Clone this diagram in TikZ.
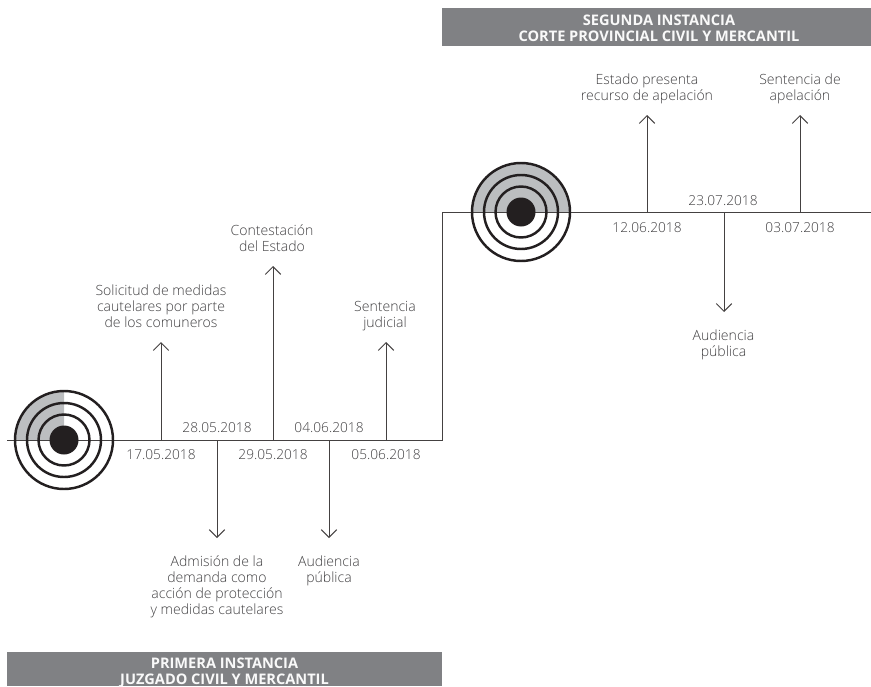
\documentclass[tikz,border=0pt]{standalone}
\usepackage{fontspec}
\setmainfont{Open Sans Light}
\newfontfamily\boldfont{Open Sans Bold}
\usepackage{xcolor}
\usetikzlibrary{arrows.meta}
\definecolor{gris}{HTML}{808184}
\definecolor{sombra}{HTML}{BCBEC0}
\definecolor{texto}{HTML}{414042}
\definecolor{negro}{HTML}{231F20}
\tikzset{
    linea/.style={draw=negro!85, line width=0.55pt},
    flecha/.style={linea, -{Straight Barb[length=4.4pt,width=9.4pt,angle'=90]}},
    fecha/.style={text=texto, font=\fontsize{7.8}{9}\selectfont, inner sep=0pt},
    hito/.style={text=texto, font=\fontsize{8}{9.1}\selectfont, align=center, inner sep=0pt},
    instancia/.style={text=white!95!gris, font=\boldfont\fontsize{8.3}{9.1}\selectfont, align=center, inner sep=0pt},
    anillo/.style={draw=negro, line width=1.4pt},
}
\begin{document}
\begin{tikzpicture}[x=0.02cm, y=-0.02cm]
            \useasboundingbox (0, 0) rectangle (871, 686);

            % barras
            \fill[gris] (442, 8) rectangle (871, 46);
            \fill[gris] (7, 652) rectangle (442, 686);
            \node[instancia] (segunda) at (659, 28) {SEGUNDA INSTANCIA\\CORTE PROVINCIAL CIVIL Y MERCANTIL};
            \node[instancia] (primera) at (224.5, 673) {PRIMERA INSTANCIA\\JUZGADO CIVIL Y MERCANTIL};

            % dianas
            \fill[sombra] (64, 440) -- (15, 440) arc[start angle=180, end angle=270, radius=49] -- cycle;
            \fill[sombra] (472, 212) arc[start angle=180, end angle=360, radius=49] -- cycle;

            % linea de tiempo
            \coordinate (inicio) at (7, 440);
            \coordinate (codo1) at (442, 440);
            \coordinate (codo2) at (442, 212);
            \coordinate (fin) at (871, 212);
            \draw[linea] (inicio) -- (codo1) -- (codo2) -- (fin);

            \node[anillo, circle, minimum size=98*0.02cm, inner sep=0pt] (d1a) at (64, 440) {};
            \node[anillo, circle, minimum size=74*0.02cm, inner sep=0pt] (d1b) at (64, 440) {};
            \node[anillo, circle, minimum size=51*0.02cm, inner sep=0pt] (d1c) at (64, 440) {};
            \node[circle, fill=negro, minimum size=29*0.02cm, inner sep=0pt] (d1d) at (64, 440) {};
            \node[anillo, circle, minimum size=98*0.02cm, inner sep=0pt] (d2a) at (521, 212) {};
            \node[anillo, circle, minimum size=74*0.02cm, inner sep=0pt] (d2b) at (521, 212) {};
            \node[anillo, circle, minimum size=51*0.02cm, inner sep=0pt] (d2c) at (521, 212) {};
            \node[circle, fill=negro, minimum size=29*0.02cm, inner sep=0pt] (d2d) at (521, 212) {};

            % primera instancia
            \coordinate (t1) at (161, 440);  \coordinate (p1) at (161, 342);
            \coordinate (t2) at (217, 440);  \coordinate (p2) at (217, 538);
            \coordinate (t3) at (273, 440);  \coordinate (p3) at (273, 266);
            \coordinate (t4) at (329, 440);  \coordinate (p4) at (329, 538);
            \coordinate (t5) at (386, 440);  \coordinate (p5) at (386, 342);
            \draw[flecha] (t1) -- (p1);
            \draw[flecha] (t2) -- (p2);
            \draw[flecha] (t3) -- (p3);
            \draw[flecha] (t4) -- (p4);
            \draw[flecha] (t5) -- (p5);

            \node[fecha] (f1) at (161, 454.5) {17.05.2018};
            \node[fecha] (f2) at (217, 428) {28.05.2018};
            \node[fecha] (f3) at (273, 454.5) {29.05.2018};
            \node[fecha] (f4) at (329, 428) {04.06.2018};
            \node[fecha] (f5) at (386, 454.5) {05.06.2018};

            \node[hito] (h1) at (161, 306) {Solicitud de medidas\\cautelares por parte\\de los comuneros};
            \node[hito] (h2) at (217, 587) {Admisión de la\\demanda como\\acción de protección\\y medidas cautelares};
            \node[hito] (h3) at (272, 238) {Contestación\\del Estado};
            \node[hito] (h4) at (329, 571) {Audiencia\\pública};
            \node[hito] (h5) at (385, 316) {Sentencia\\judicial};

            % segunda instancia
            \coordinate (t6) at (647, 212);  \coordinate (p6) at (647, 115);
            \coordinate (t7) at (724, 212);  \coordinate (p7) at (724, 312);
            \coordinate (t8) at (800, 212);  \coordinate (p8) at (800, 115);
            \draw[flecha] (t6) -- (p6);
            \draw[flecha] (t7) -- (p7);
            \draw[flecha] (t8) -- (p8);

            \node[fecha] (f6) at (647, 228) {12.06.2018};
            \node[fecha] (f7) at (723, 201) {23.07.2018};
            \node[fecha] (f8) at (800, 228) {03.07.2018};

            \node[hito] (h6) at (647, 89) {Estado presenta\\recurso de apelación};
            \node[hito] (h7) at (723.5, 344.5) {Audiencia\\pública};
            \node[hito] (h8) at (800, 89) {Sentencia de\\apelación};
        \end{tikzpicture}
\end{document}
